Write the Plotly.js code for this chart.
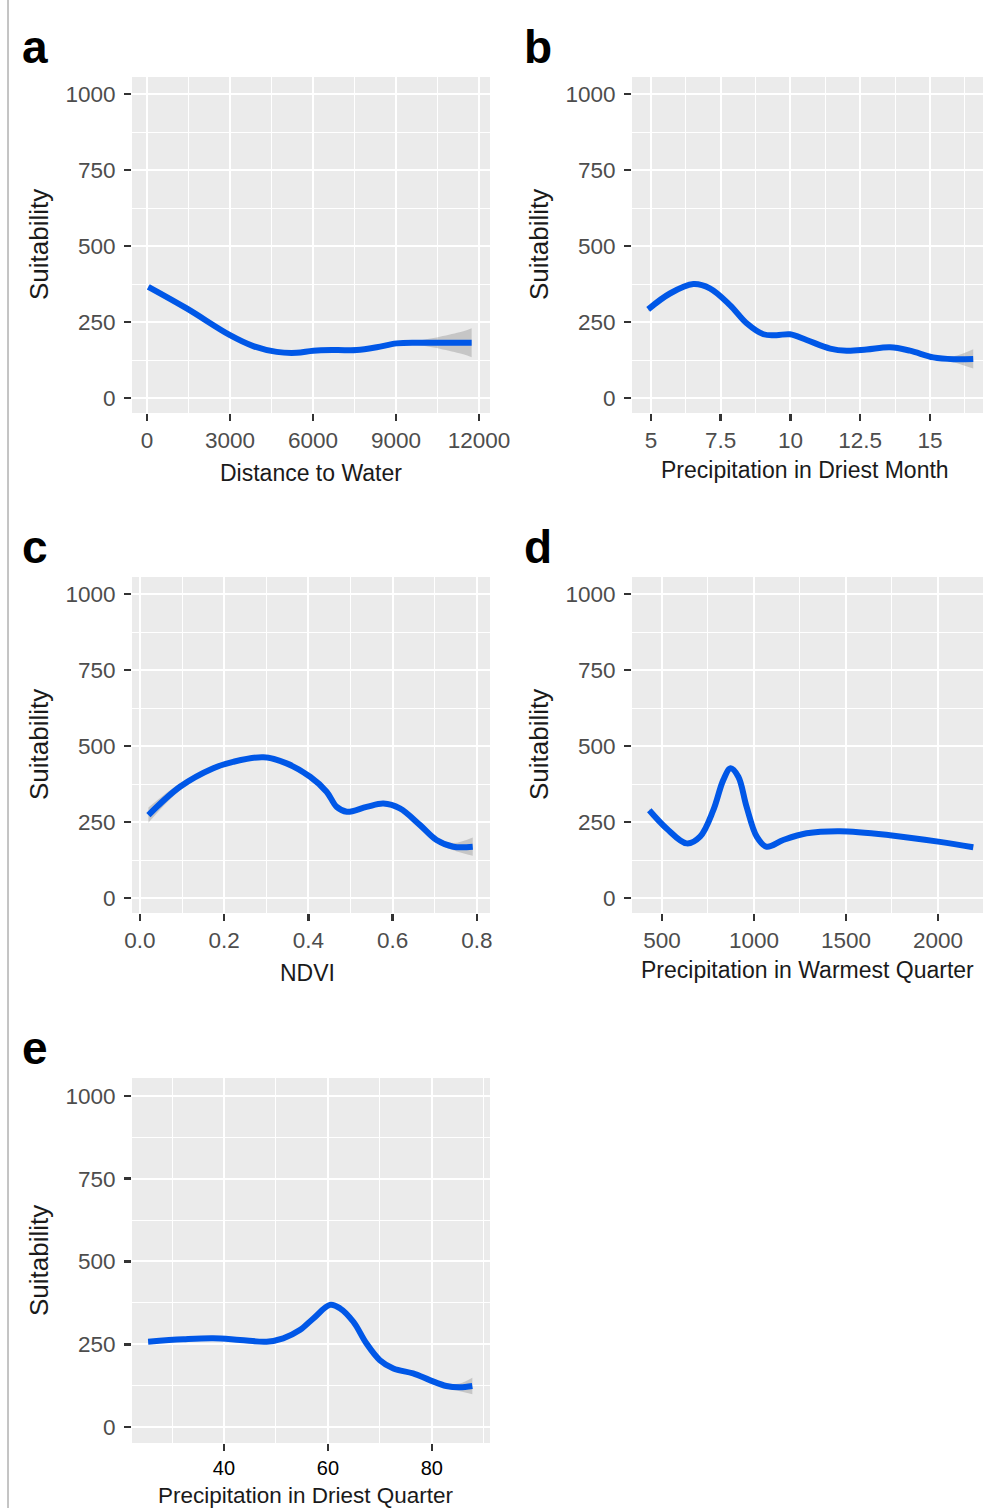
<!DOCTYPE html>
<html><head><meta charset="utf-8">
<script src="https://cdn.plot.ly/plotly-3.0.1.min.js"></script>
<style>html,body{margin:0;padding:0;background:#fff}#chart{width:983px;height:1508px}</style>
</head><body><div id="chart"></div>
<script>
// Panel a: Distance to Water
const aX = [47, 1435, 3000, 3842, 4688, 5411, 6012, 6857, 7580, 8302, 9025, 9867, 11433, 11735];
const aY = [366, 295, 207, 171, 152, 149, 156, 158, 158, 167, 180, 182, 182, 182];
const aSE = [4, 3, 3, 3, 3, 3, 3, 3, 3, 3, 4, 8, 38, 48];
// Panel b: Precipitation in Driest Month
const bX = [4.90, 5.68, 6.52, 7.11, 7.83, 8.43, 9.03, 9.5, 9.98, 10.58, 11.42, 12.01, 12.73, 13.57, 14.28, 15.12, 15.84, 16.55];
const bY = [292, 344, 375, 361, 306, 246, 210, 207, 210, 191, 163, 156, 160, 167, 156, 134, 128, 129];
const bSE = [6, 4, 4, 4, 4, 4, 4, 4, 4, 4, 4, 4, 4, 4, 5, 6, 10, 32];
// Panel c: NDVI
const cX = [0.020, 0.095, 0.174, 0.221, 0.293, 0.348, 0.404, 0.443, 0.467, 0.491, 0.538, 0.578, 0.617, 0.665, 0.704, 0.744, 0.790];
const cY = [273, 366, 427, 448, 463, 443, 399, 350, 300, 284, 300, 311, 295, 240, 191, 169, 169];
const cSE = [25, 12, 6, 5, 5, 5, 5, 5, 5, 5, 5, 5, 5, 6, 8, 12, 30];
// Panel d: Precipitation in Warmest Quarter
const dX = [431, 525, 634, 707, 779, 833, 873, 915, 960, 1015, 1069, 1159, 1286, 1467, 1739, 2011, 2192];
const dY = [289, 229, 180, 202, 289, 388, 427, 399, 300, 202, 169, 191, 213, 220, 207, 185, 167];
const dSE = [6, 4, 4, 4, 4, 4, 4, 4, 4, 4, 4, 4, 4, 4, 4, 5, 8];
// Panel e: Precipitation in Driest Quarter
const eX = [25.4, 32.2, 37.9, 43.1, 48.2, 51.4, 54.6, 57.2, 60.4, 62.3, 64.9, 67.4, 70.0, 72.6, 76.4, 79.6, 82.8, 85.4, 87.8];
const eY = [258, 265, 268, 263, 258, 268, 293, 328, 369, 359, 318, 253, 202, 177, 162, 142, 124, 120, 124];
const eSE = [5, 4, 4, 4, 4, 4, 4, 4, 4, 4, 4, 4, 4, 4, 4, 5, 7, 12, 25];

const panels = [
  {id:'a', x:aX, y:aY, se:aSE, title:'Distance to Water', xr:[-542,12398], yr:[-49,1056], xd:[132,490], yd:[77,413], tdx:0, ldx:0,
   xt:{tickvals:[0,3000,6000,9000,12000], ticktext:['0','3000','6000','9000','12000']}, xminor:1500},
  {id:'b', x:bX, y:bY, se:bSE, title:'Precipitation in Driest Month', xr:[4.32,16.9], yr:[-49,1056], xd:[632,983], yd:[77,413], tdx:-3, ldx:3,
   xt:{tickvals:[5,7.5,10,12.5,15], ticktext:['5','7.5','10','12.5','15']}, xminor:1.25},
  {id:'c', x:cX, y:cY, se:cSE, title:'NDVI', xr:[-0.019,0.831], yr:[-49,1056], xd:[132,490], yd:[577,913], tdx:-4, ldx:0,
   xt:{tickvals:[0,0.2,0.4,0.6,0.8], ticktext:['0.0','0.2','0.4','0.6','0.8']}, xminor:0.1},
  {id:'d', x:dX, y:dY, se:dSE, title:'Precipitation in Warmest Quarter', xr:[337,2245], yr:[-49,1056], xd:[632,983], yd:[577,913], tdx:0, ldx:3,
   xt:{tickvals:[500,1000,1500,2000], ticktext:['500','1000','1500','2000']}, xminor:250},
  {id:'e', x:eX, y:eY, se:eSE, title:'Precipitation in Driest Quarter', xr:[22.3,91.2], yr:[-48,1054], xd:[132,490], yd:[1078,1443], tdx:-5, ldx:0,
   xt:{tickvals:[40,60,80], ticktext:['40','60','80']}, xminor:10, black:true}
];

const W = 983, H = 1508;
const FONT = '"Liberation Sans", Arial, sans-serif';
const traces = [];
const layout = {
  width: W, height: H, margin:{l:0,r:0,t:0,b:0},
  paper_bgcolor:'#ffffff', plot_bgcolor:'#ebebeb', showlegend:false,
  font:{family:FONT, color:'#4d4d4d'},
  annotations:[], shapes:[]
};

panels.forEach((p, i) => {
  const n = i === 0 ? '' : String(i+1);
  const xa = 'x' + n, ya = 'y' + n;
  const lo = p.y.map((v,k)=>v-p.se[k]);
  const hi = p.y.map((v,k)=>v+p.se[k]);
  traces.push({x:p.x, y:lo, xaxis:xa, yaxis:ya, mode:'lines', line:{width:0, shape:'spline', color:'rgba(0,0,0,0)'}, hoverinfo:'skip'});
  traces.push({x:p.x, y:hi, xaxis:xa, yaxis:ya, mode:'lines', fill:'tonexty', fillcolor:'rgba(153,153,153,0.45)', line:{width:0, shape:'spline', color:'rgba(0,0,0,0)'}, hoverinfo:'skip'});
  traces.push({x:p.x, y:p.y, xaxis:xa, yaxis:ya, mode:'lines', line:{color:'#0057e7', width:6, shape:'spline', smoothing:1}});
  const common = {showline:false, zeroline:false, gridcolor:'#ffffff', gridwidth:2, ticks:'outside', ticklen:7, tickwidth:2.5, tickcolor:'#333333'};
  layout['xaxis'+n] = Object.assign({}, common, {
    anchor: ya, domain:[p.xd[0]/W, p.xd[1]/W], range:p.xr, tickmode:'array', tickvals:p.xt.tickvals, ticktext:p.xt.ticktext,
    ticklen: 7,
    tickfont:{size: p.black ? 20 : 22.5, color: p.black ? '#000000' : '#4d4d4d', family:FONT}, ticklabelstandoff: 0,
    minor:{dtick:p.xminor, tick0:0, showgrid:true, gridcolor:'#ffffff', gridwidth:1, ticklen:0}
  });
  layout['yaxis'+n] = Object.assign({}, common, {
    anchor: xa, domain:[1-p.yd[1]/H, 1-p.yd[0]/H], range:p.yr, tickmode:'array', tickvals:[0,250,500,750,1000],
    tickfont:{size:22.5, color:'#4d4d4d', family:FONT}, ticklabelstandoff:4,
    minor:{dtick:125, tick0:0, showgrid:true, gridcolor:'#ffffff', gridwidth:1, ticklen:0}
  });
  const cx = (p.xd[0]+p.xd[1])/2 + p.tdx;
  const titleY = p.id==='e' ? 1495 : (p.id==='b'||p.id==='d' ? p.yd[1]+57 : p.yd[1]+60);
  layout.annotations.push({text:p.title, xref:'paper', yref:'paper', x:cx/W, y:1-titleY/H, xanchor:'center', yanchor:'middle',
    showarrow:false, font:{size: p.black ? 22.5 : 23, color:'#1a1a1a', family:FONT}});
  layout.annotations.push({text:'Suitability', xref:'paper', yref:'paper', x:(p.xd[0]-93)/W, y:1-(p.id==='e'?1261:(p.yd[0]+168))/H,
    xanchor:'center', yanchor:'middle', textangle:-90, showarrow:false, font:{size:26, color:'#1a1a1a', family:FONT}});
  layout.annotations.push({text:'<b>'+p.id+'</b>', xref:'paper', yref:'paper', x:(p.xd[0]-97+p.ldx)/W, y:1-(p.yd[0]-30)/H,
    xanchor:'center', yanchor:'middle', showarrow:false, font:{size:46, color:'#000000', family:FONT}});
});

layout.shapes.push({type:'line', xref:'paper', yref:'paper', x0:8/W, x1:8/W, y0:0, y1:1, line:{color:'#8a8a8a', width:1}});

Plotly.newPlot('chart', traces, layout, {staticPlot:true, displayModeBar:false});
</script>
</body></html>
